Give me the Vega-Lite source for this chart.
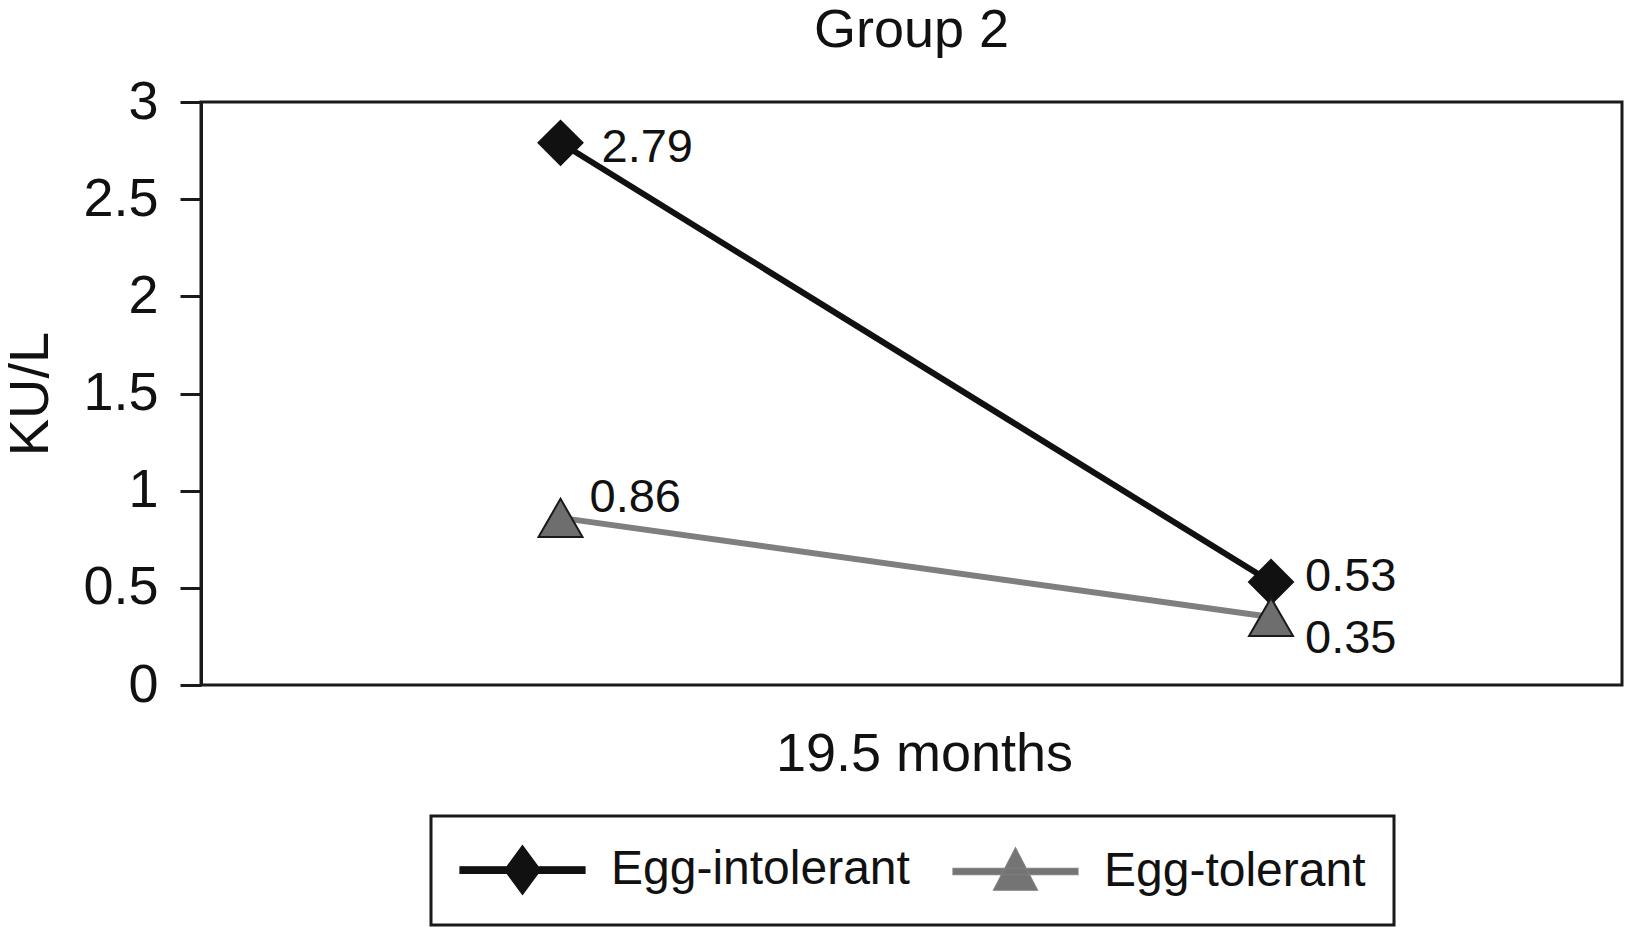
{
  "$schema": "https://vega.github.io/schema/vega-lite/v6.json",
  "width": 1421,
  "height": 583,
  "autosize": {"type": "none"},
  "padding": {"left": 201, "top": 102, "right": 3, "bottom": 242},
  "background": "white",
  "config": {"font": "Liberation Sans", "view": {"stroke": "#1a1a1a", "strokeWidth": 3}},
  "title": {"text": "Group 2", "fontSize": 54, "fontWeight": "normal", "color": "#111111", "frame": "group", "anchor": "middle", "baseline": "alphabetic", "offset": -26},
  "data": {"values": [
    {"time": "Baseline", "group": "Egg-intolerant", "value": 2.79},
    {"time": "19.5 months", "group": "Egg-intolerant", "value": 0.53},
    {"time": "Baseline", "group": "Egg-tolerant", "value": 0.86},
    {"time": "19.5 months", "group": "Egg-tolerant", "value": 0.35}
  ]},
  "encoding": {
    "x": {"field": "time", "type": "nominal", "sort": ["Baseline", "19.5 months"],
      "scale": {"type": "point", "padding": 0.5, "align": 0.506},
      "axis": {"domain": false, "ticks": false, "labels": false, "title": "19.5 months", "titleFontSize": 54, "titleFontWeight": "normal", "titleColor": "#111111", "titleX": 723, "titleY": 85, "titleBaseline": "alphabetic", "titleAlign": "center"}},
    "y": {"field": "value", "type": "quantitative", "scale": {"domain": [0, 3], "nice": false},
      "axis": {"values": [0, 0.5, 1, 1.5, 2, 2.5, 3], "format": ".1~f", "grid": false, "domainColor": "#1a1a1a", "domainWidth": 3, "tickColor": "#1a1a1a", "tickWidth": 3, "tickSize": 21, "labelFontSize": 54, "labelColor": "#111111", "labelPadding": 22, "title": "KU/L", "titleFontSize": 56, "titleFontWeight": "normal", "titleColor": "#111111", "titleX": -154, "titleY": 291.5, "titleBaseline": "alphabetic", "titleAlign": "center", "titleAngle": 270}}
  },
  "layer": [
    {
      "mark": {"type": "line", "strokeWidth": 6},
      "encoding": {
        "color": {"field": "group", "type": "nominal",
          "scale": {"domain": ["Egg-intolerant", "Egg-tolerant"], "range": ["#111111", "#7f7f7f"]},
          "legend": {
            "orient": "none", "legendX": 230, "legendY": 714, "direction": "horizontal", "columns": 2, "title": null,
            "strokeColor": "#1a1a1a", "padding": 28, "labelFontSize": 48, "labelColor": "#111111", "labelFont": "Liberation Sans",
            "labelOffset": 100, "labelLimit": 1000, "columnPadding": 40, "symbolSize": 2500,
            "symbolType": "M-1,-0.13L4,-0.13L4,0.13L-1,0.13Z",
            "encode": {
              "legend": {"update": {"strokeWidth": {"value": 3}}},
              "symbols": {"update": {
                "shape": {"signal": "datum.value === 'Egg-intolerant' ? 'M-1,-0.13L4,-0.13L4,0.13L-1,0.13ZM1.5,-0.98L2.22,0L1.5,0.98L0.78,0Z' : 'M-1,-0.13L4,-0.13L4,0.13L-1,0.13ZM1.5,-0.95L2.38,0.75L0.62,0.75Z'"},
                "fill": {"signal": "datum.value === 'Egg-intolerant' ? '#111111' : '#747474'"},
                "stroke": {"signal": "datum.value === 'Egg-intolerant' ? '#111111' : '#333333'"},
                "strokeWidth": {"value": 1.2},
                "opacity": {"value": 1}
              }}
            }
          }}
      }
    },
    {
      "transform": [{"filter": "datum.group === 'Egg-intolerant'"}],
      "mark": {"type": "point", "shape": "diamond", "filled": true, "opacity": 1, "size": 2000, "fill": "#111111", "stroke": "#111111", "strokeWidth": 1.5}
    },
    {
      "transform": [{"filter": "datum.group === 'Egg-tolerant'"}],
      "mark": {"type": "point", "shape": "triangle-up", "filled": true, "opacity": 1, "size": 1936, "fill": "#6e6e6e", "stroke": "#1a1a1a", "strokeWidth": 2}
    },
    {
      "transform": [{"filter": "datum.time === 'Baseline' && datum.group === 'Egg-intolerant'"}],
      "mark": {"type": "text", "fontSize": 47, "color": "#111111", "align": "left", "baseline": "alphabetic", "dx": 41, "dy": 19},
      "encoding": {"text": {"field": "value", "type": "quantitative", "format": ".2f"}}
    },
    {
      "transform": [{"filter": "datum.time === 'Baseline' && datum.group === 'Egg-tolerant'"}],
      "mark": {"type": "text", "fontSize": 47, "color": "#111111", "align": "left", "baseline": "alphabetic", "dx": 29, "dy": -6},
      "encoding": {"text": {"field": "value", "type": "quantitative", "format": ".2f"}}
    },
    {
      "transform": [{"filter": "datum.time === '19.5 months' && datum.group === 'Egg-intolerant'"}],
      "mark": {"type": "text", "fontSize": 47, "color": "#111111", "align": "left", "baseline": "alphabetic", "dx": 34, "dy": 9},
      "encoding": {"text": {"field": "value", "type": "quantitative", "format": ".2f"}}
    },
    {
      "transform": [{"filter": "datum.time === '19.5 months' && datum.group === 'Egg-tolerant'"}],
      "mark": {"type": "text", "fontSize": 47, "color": "#111111", "align": "left", "baseline": "alphabetic", "dx": 34, "dy": 36},
      "encoding": {"text": {"field": "value", "type": "quantitative", "format": ".2f"}}
    }
  ]
}
